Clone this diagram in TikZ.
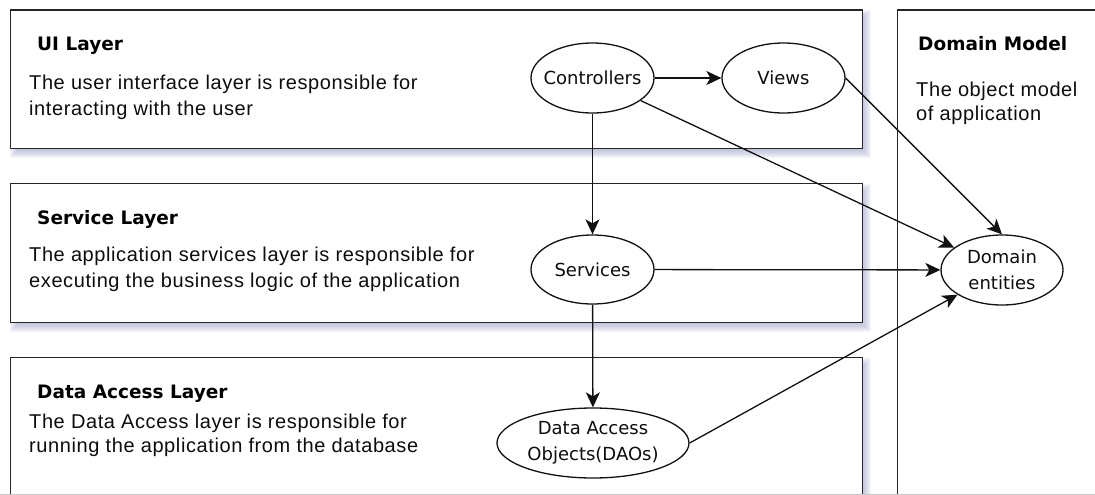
\documentclass[tikz,border=0pt]{standalone}
\usepackage{fontspec}
\setmainfont{Liberation Sans}
\newfontfamily\labelfont{DejaVu Sans}
\newfontfamily\bodyfont{Liberation Sans}[LetterSpace=3]
\usetikzlibrary{arrows.meta,calc,backgrounds,shapes.geometric}

\definecolor{boxline}{HTML}{262626}
\definecolor{inkline}{HTML}{111111}
\definecolor{shadowc}{HTML}{A4A9CC}
\definecolor{rulegray}{HTML}{C8C8C8}

% two left-aligned lines whose baseline is the first line
\newcommand\twolines[2]{\begin{tabular}[t]{@{}l@{}}#1\\#2\end{tabular}}

\tikzset{
  layerbox/.style={rectangle, draw=boxline, line width=1.4pt, fill=white, inner sep=0pt, anchor=north west},
  oval/.style={ellipse, draw=inkline, line width=1.3pt, fill=white, inner ysep=0pt, inner xsep=-15pt,
    align=center, text=black!95, font=\labelfont\fontsize{18}{26.5}\selectfont},
  title/.style={anchor=base west, inner sep=0pt, text=black, font=\labelfont\bfseries\fontsize{18.5}{22}\selectfont},
  body/.style={anchor=base west, inner sep=0pt, text=black!95},
  link/.style={draw=inkline, line width=1.3pt, -{Stealth[length=15pt,width=14pt,inset=4pt]}},
}

\begin{document}
\begin{tikzpicture}[x=1pt, y=-1pt]
\useasboundingbox (0,0) rectangle (1095,495);
\clip (0,0) rectangle (1095,495);

% layer panels
\node[layerbox, minimum width=852pt, minimum height=138pt] (ui)  at (10,9.5) {};
\node[layerbox, minimum width=852pt, minimum height=139pt] (svc) at (10,183) {};
\node[layerbox, minimum width=852pt, minimum height=150pt] (dal) at (10,357) {};
\node[layerbox, minimum width=220pt, minimum height=500pt] (dm)  at (897,9.5) {};

% soft drop shadows behind the layer panels
\begin{scope}[on background layer]
  \clip (0,0) rectangle (1095,495);
  \foreach \b in {ui,svc,dal}{
    \foreach \g in {0,...,8}{
      \fill[shadowc, opacity=0.11]
        ($(\b.north west)+({8-\g},{9-\g})$) rectangle ($(\b.south east)+({\g},{1+\g})$);
    }
  }
\end{scope}

% panel titles and descriptions
\node[title] (uiT)  at (37,50.5) {UI Layer};
\node[body, font=\bodyfont\fontsize{20}{26}\selectfont] (uiB) at (29,89.3)
  {\twolines{The user interface layer is responsible for}{interacting with the user}};

\node[title] (svcT) at (37,224) {Service Layer};
\node[body, font=\bodyfont\fontsize{20}{26}\selectfont] (svcB) at (29,261.7)
  {\twolines{The application services layer is responsible for}{executing the business logic of the application}};

\node[title] (dalT) at (37,398) {Data Access Layer};
\node[body, font=\bodyfont\fontsize{20}{24}\selectfont] (dalB) at (29,428.5)
  {\twolines{The Data Access layer is responsible for}{running the application from the database}};

\node[title] (dmT)  at (918,50.7) {Domain Model};
\node[body, font=\bodyfont\fontsize{20}{24}\selectfont] (dmB) at (916,96.7)
  {\twolines{The object model}{of application}};

% components
\node[oval, minimum width=123pt, minimum height=70pt] (ctrl)  at (592.5,78) {Controllers};
\node[oval, minimum width=123pt, minimum height=70pt] (views) at (783.5,78) {Views};
\node[oval, minimum width=123pt, minimum height=69pt] (serv)  at (592.5,269.5) {Services};
\node[oval, minimum width=192pt, minimum height=70pt] (dao)   at (593,443) {Data Access\\Objects(DAOs)};
\node[oval, minimum width=122pt, minimum height=70pt] (dom)   at (1002,270) {Domain\\entities};

% dependencies
\draw[link] (ctrl) -- (views);
\draw[link] (ctrl) -- (serv);
\draw[link] (serv) -- (dao);
\draw[link] (ctrl) -- (dom);
\draw[link] (views.east) -- (dom.north);
\draw[link] (serv) -- (dom);
\draw[link] (dao.east) -- (dom.209);

% bottom edge of the sheet
\draw[rulegray, line width=1pt] (0,494.5) -- (1095,494.5);
\end{tikzpicture}
\end{document}
